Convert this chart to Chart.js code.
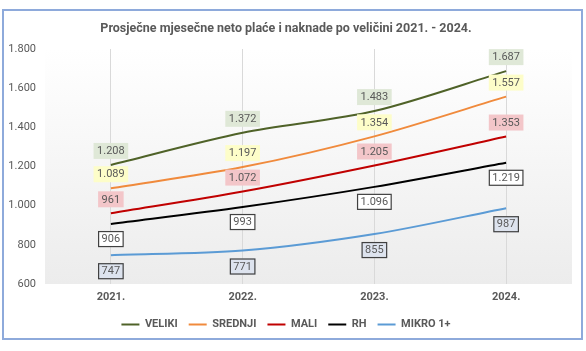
<!DOCTYPE html>
<html>
<head>
<meta charset="utf-8">
<script src="https://cdn.jsdelivr.net/npm/chart.js@4"></script>
<style>
  html, body { margin: 0; padding: 0; background: #fff; }
  #wrap { position: relative; width: 586px; height: 351px; }
  #frame {
    position: absolute; left: 2px; top: 9px; width: 581px; height: 331px;
    border: 2px solid #8eaadb; box-sizing: border-box; pointer-events: none;
  }
</style>
</head>
<body>
<div id="wrap">
  <canvas id="chart"></canvas>
  <div id="frame"></div>
</div>
<script>
const years = ['2021.', '2022.', '2023.', '2024.'];
const veliki = [1208, 1372, 1483, 1687];
const srednji = [1089, 1197, 1354, 1557];
const mali = [961, 1072, 1205, 1353];
const rh = [906, 993, 1096, 1219];
const mikro = [747, 771, 855, 987];
const yTicks = [600, 800, 1000, 1200, 1400, 1600, 1800];

const fmt = v => v >= 1000 ? Math.floor(v / 1000) + '.' + String(v % 1000).padStart(3, '0') : String(v);
const FONT = 'Roboto, "Liberation Sans", sans-serif';
const GREY = '#595959';

// label boxes: offset from point, fill, border
const labelStyles = [
  { dy: -14, bg: '#dfe8d7', border: null },
  { dy: -14, bg: '#fdfdc9', border: null },
  { dy: -14, bg: '#f3c6c9', border: null },
  { dy: 15, bg: '#ffffff', border: '#404040' },
  { dy: 16, bg: '#dde3ee', border: '#404040' }
];

const plotBg = {
  id: 'plotBg',
  beforeDraw(chart) {
    const { ctx, chartArea: a } = chart;
    const g = ctx.createLinearGradient(0, a.top, 0, a.bottom);
    g.addColorStop(0, '#ffffff');
    g.addColorStop(1, '#ececec');
    ctx.save();
    ctx.fillStyle = g;
    ctx.fillRect(a.left, a.top, a.right - a.left, a.bottom - a.top);
    ctx.restore();
  }
};

const valueLabels = {
  id: 'valueLabels',
  afterDatasetsDraw(chart) {
    const ctx = chart.ctx;
    ctx.save();
    ctx.font = '11px ' + FONT;
    ctx.textAlign = 'center';
    ctx.textBaseline = 'middle';
    chart.data.datasets.forEach((ds, i) => {
      const st = labelStyles[i];
      chart.getDatasetMeta(i).data.forEach((pt, j) => {
        const txt = fmt(ds.data[j]);
        const w = ctx.measureText(txt).width + 7;
        const h = 16;
        const x = pt.x, y = pt.y + st.dy;
        ctx.fillStyle = st.bg;
        ctx.fillRect(x - w / 2, y - h / 2, w, h);
        if (st.border) {
          ctx.strokeStyle = st.border;
          ctx.lineWidth = 1.2;
          ctx.strokeRect(x - w / 2 + 0.5, y - h / 2 + 0.5, w - 1, h - 1);
        }
        ctx.fillStyle = GREY;
        ctx.fillText(txt, x, y + 0.5);
      });
    });
    ctx.restore();
  }
};

const mk = (label, data, color) => ({
  label, data, borderColor: color, backgroundColor: color,
  borderWidth: 2, pointRadius: 0, tension: 0.3, fill: false
});

new Chart(document.getElementById('chart'), {
  type: 'line',
  data: {
    labels: years,
    datasets: [
      mk('VELIKI', veliki, '#4f6228'),
      mk('SREDNJI', srednji, '#f08a3c'),
      mk('MALI', mali, '#c00000'),
      mk('RH', rh, '#000000'),
      mk('MIKRO 1+', mikro, '#5b9bd5')
    ]
  },
  options: {
    responsive: true,
    maintainAspectRatio: false,
    animation: false,
    layout: { padding: { top: 12, left: 0, right: 14, bottom: 11 } },
    plugins: {
      title: {
        display: true,
        text: 'Prosječne mjesečne neto plaće i naknade po veličini 2021. - 2024.',
        color: GREY,
        font: { family: FONT, size: 12.5, weight: 'bold' },
        padding: { top: 9, bottom: 13 }
      },
      legend: {
        position: 'bottom',
        labels: {
          usePointStyle: true,
          pointStyle: 'line',
          pointStyleWidth: 18,
          color: GREY,
          font: { family: FONT, size: 11, weight: 'bold' },
          padding: 11
        }
      },
      tooltip: { enabled: false }
    },
    scales: {
      x: {
        offset: true,
        grid: { display: true, offset: false, color: '#d9d9d9', drawTicks: false },
        border: { display: false },
        ticks: { color: GREY, font: { family: FONT, size: 11, weight: 'bold' }, padding: 7 },
        afterFit: s => { s.height = 24; }
      },
      y: {
        min: 600, max: 1800,
        afterBuildTicks: s => { s.ticks = yTicks.map(v => ({ value: v })); },
        grid: { display: false, drawTicks: false },
        border: { display: false },
        ticks: { color: GREY, font: { family: FONT, size: 11 }, padding: 9, callback: v => fmt(v) },
        afterFit: s => { s.width = 45; }
      }
    }
  },
  plugins: [plotBg, valueLabels]
});
</script>
</body>
</html>
